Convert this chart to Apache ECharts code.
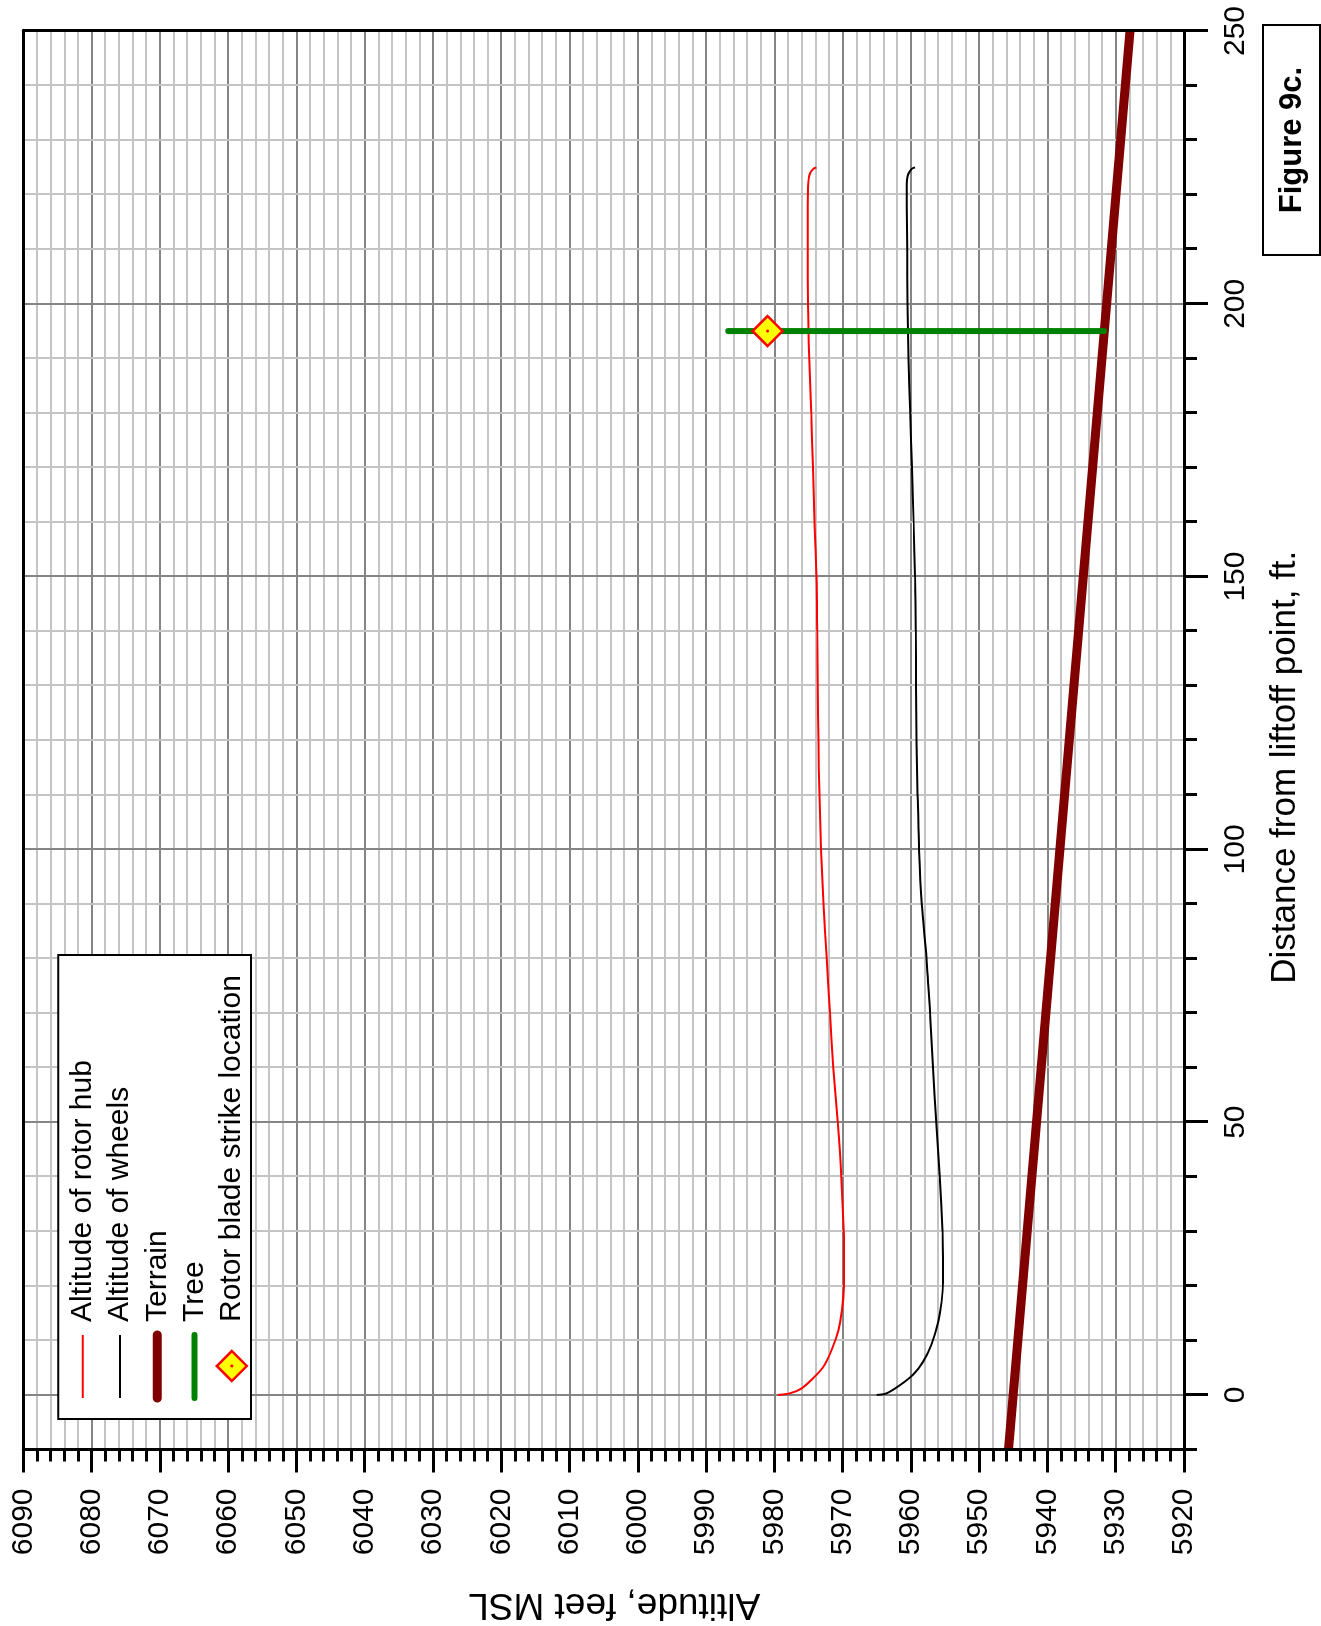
<!DOCTYPE html>
<html>
<head>
<meta charset="utf-8">
<script src="https://cdn.jsdelivr.net/npm/echarts@6/dist/echarts.min.js"></script>
<style>
  html, body { margin: 0; padding: 0; background: #fff; overflow: hidden; }
  #page { position: relative; width: 1321px; height: 1626px; overflow: hidden; background: #fff; }
  /* The chart is laid out landscape and turned a quarter turn counter-clockwise */
  #chart { position: absolute; left: 0; top: 0; width: 1626px; height: 1321px;
           transform-origin: 0 0; transform: translate(0, 1626px) rotate(-90deg); }
</style>
</head>
<body>
<div id="page"><div id="chart"></div></div>
<script>
// Distance from liftoff point (ft) and altitude (ft MSL) of the rotor hub
const hubDistance = [0, 0.3, 1.2, 3.1, 5.2, 8.25, 11.9, 15.6, 19.2, 25, 30, 40, 50, 60, 70, 80, 90, 100,
  110, 120, 130, 140, 150, 160, 170, 180, 190, 195, 200, 210, 218, 222, 223.5, 224.3, 224.8, 225];
const hubAltitude = [5979.5, 5977.7, 5976.0, 5974.3, 5972.8, 5971.6, 5970.6, 5970.1, 5969.85, 5969.8, 5969.85,
  5970.2, 5970.73, 5971.37, 5971.85, 5972.34, 5972.8, 5973.15, 5973.4, 5973.55, 5973.65, 5973.72, 5973.82,
  5974.1, 5974.35, 5974.6, 5974.88, 5975.0, 5975.08, 5975.1, 5975.1, 5975.05, 5974.9, 5974.6, 5974.2, 5973.85];

// Altitude of the wheels
const wheelDistance = [0, 0.3, 1.8, 3.7, 6.1, 9.2, 13.4, 17.1, 20.7, 25, 30, 40, 50, 60, 70, 80, 90, 100,
  110, 120, 130, 140, 150, 160, 170, 180, 190, 200, 210, 218, 222, 223.5, 224.3, 224.8, 225];
const wheelAltitude = [5965.0, 5963.55, 5961.6, 5959.7, 5958.2, 5957.0, 5956.0, 5955.5, 5955.3, 5955.3, 5955.37,
  5955.76, 5956.3, 5956.75, 5957.2, 5957.7, 5958.4, 5958.8, 5959.02, 5959.17, 5959.24, 5959.3, 5959.4,
  5959.6, 5959.85, 5960.1, 5960.35, 5960.5, 5960.55, 5960.6, 5960.6, 5960.45, 5960.15, 5959.8, 5959.4];

// Terrain profile
const terrainDistance = [-10, 250];
const terrainAltitude = [5945.7, 5927.9];

// Tree (base to top)
const treeDistance = [195, 195];
const treeAltitude = [5931.7, 5986.75];

// Rotor blade strike location
const strikeDistance = [195];
const strikeAltitude = [5981.0];

// Labelled ticks
const distanceLabels = [0, 50, 100, 150, 200, 250];
const altitudeLabels = [5920, 5930, 5940, 5950, 5960, 5970, 5980, 5990, 6000, 6010, 6020, 6030, 6040, 6050, 6060, 6070, 6080, 6090];

const legendNames = ['Altitude of rotor hub', 'Altitude of wheels', 'Terrain', 'Tree', 'Rotor blade strike location'];
const figureLabel = 'Figure 9c.';

const FONT = '"Liberation Sans", Arial, Helvetica, sans-serif';
const pairs = (xs, ys) => xs.map((x, i) => [x, ys[i]]);
const frameLine = { show: true, onZero: false, lineStyle: { color: '#000', width: 3 } };
const LIGHT = '#c4c4c4', DARK = '#858585';
const TOP_Z = 20;

const chart = echarts.init(document.getElementById('chart'), null, { renderer: 'canvas' });

// Legend drawn as a boxed key in the upper-left corner of the plot
const legendRowY = i => 82.8 + 37.25 * i;
const legendElements = [
  { type: 'rect', z: TOP_Z, shape: { x: 207, y: 58.3, width: 464, height: 192.7 },
    style: { fill: '#fff', stroke: '#000', lineWidth: 2 } }
];
const legendStyles = [
  { stroke: '#ff0000', lineWidth: 2 },
  { stroke: '#000000', lineWidth: 2 },
  { stroke: '#800000', lineWidth: 9, lineCap: 'round' },
  { stroke: '#008000', lineWidth: 6, lineCap: 'round' },
  null
];
legendNames.forEach((name, i) => {
  const y = legendRowY(i);
  if (legendStyles[i]) {
    legendElements.push({ type: 'line', z: TOP_Z + 1, shape: { x1: 228, y1: y, x2: 291, y2: y }, style: legendStyles[i] });
  } else {
    legendElements.push({ type: 'polygon', z: TOP_Z + 1,
      shape: { points: [[260, y - 15], [275, y], [260, y + 15], [245, y]] },
      style: { fill: '#ffff00', stroke: '#ff0000', lineWidth: 2.5 } });
    legendElements.push({ type: 'circle', z: TOP_Z + 2, shape: { cx: 260, cy: y, r: 1.5 }, style: { fill: '#ff0000' } });
  }
  legendElements.push({ type: 'text', z: TOP_Z + 1, x: 304, y: y,
    style: { text: name, font: '30px ' + FONT, fill: '#000', align: 'left', verticalAlign: 'middle' } });
});

const figureElements = [
  { type: 'rect', z: TOP_Z, shape: { x: 1371, y: 1263, width: 230, height: 57 },
    style: { fill: '#fff', stroke: '#000', lineWidth: 2 } },
  { type: 'text', z: TOP_Z + 1, x: 1486, y: 1292,
    style: { text: figureLabel, font: 'bold 31px ' + FONT, fill: '#000', align: 'center', verticalAlign: 'middle' } }
];

const option = {
  animation: false,
  backgroundColor: '#fff',
  grid: { left: 176.5, right: 31, top: 23.3, bottom: 137, show: false, outerBoundsMode: 'none' },
  xAxis: [
    {
      type: 'value', position: 'bottom', min: -10, max: 250, interval: 10,
      name: 'Distance from liftoff point, ft.', nameLocation: 'middle', nameGap: 84,
      nameTextStyle: { fontSize: 35, color: '#000', fontFamily: FONT, padding: [0, 54, 0, 0] },
      axisLine: { show: false, onZero: false },
      axisTick: { show: true, length: 13, lineStyle: { color: '#000', width: 3 } },
      axisLabel: { show: true, margin: 37, fontSize: 30, color: '#000', fontFamily: FONT,
        formatter: v => distanceLabels.includes(v) ? String(v) : '' },
      splitLine: { show: true, lineStyle: { color: [LIGHT, DARK, LIGHT, LIGHT, LIGHT], width: 2 } },
      z: 1
    },
    {
      type: 'value', position: 'bottom', min: -10, max: 250,
      axisLine: frameLine,
      axisTick: { show: true, length: 24, customValues: distanceLabels, lineStyle: { color: '#000', width: 3 } },
      axisLabel: { show: false }, splitLine: { show: false }, z: 4
    },
    {
      type: 'value', position: 'top', min: -10, max: 250,
      axisLine: frameLine, axisTick: { show: false }, axisLabel: { show: false }, splitLine: { show: false }, z: 4
    }
  ],
  yAxis: [
    {
      type: 'value', position: 'left', min: 5920, max: 6090, interval: 2,
      name: 'Altitude, feet MSL', nameLocation: 'middle', nameRotate: 90, nameGap: 136,
      nameTextStyle: { fontSize: 37, color: '#000', fontFamily: FONT, padding: [0, 21, 0, 0] },
      axisLine: { show: false, onZero: false },
      axisTick: { show: true, length: 12, lineStyle: { color: '#000', width: 3 } },
      axisLabel: { show: true, margin: 39, fontSize: 30, color: '#000', fontFamily: FONT,
        formatter: v => altitudeLabels.includes(v) ? String(v) : '' },
      splitLine: { show: true, lineStyle: { color: [DARK, LIGHT, LIGHT, LIGHT, LIGHT], width: 2 } },
      z: 1
    },
    {
      type: 'value', position: 'left', min: 5920, max: 6090, interval: 10,
      axisLine: frameLine,
      axisTick: { show: true, length: 23, lineStyle: { color: '#000', width: 3 } },
      axisLabel: { show: false }, splitLine: { show: false }, z: 4
    },
    {
      type: 'value', position: 'right', min: 5920, max: 6090,
      axisLine: frameLine, axisTick: { show: false }, axisLabel: { show: false }, splitLine: { show: false }, z: 4
    }
  ],
  series: [
    {
      name: legendNames[0], type: 'line', data: pairs(hubDistance, hubAltitude),
      showSymbol: false, symbol: 'none', smooth: 0.3,
      lineStyle: { color: '#ff0000', width: 2 }, z: 2
    },
    {
      name: legendNames[1], type: 'line', data: pairs(wheelDistance, wheelAltitude),
      showSymbol: false, symbol: 'none', smooth: 0.3,
      lineStyle: { color: '#000000', width: 2 }, z: 2
    },
    {
      name: legendNames[2], type: 'line', data: pairs(terrainDistance, terrainAltitude),
      showSymbol: false, symbol: 'none', lineStyle: { color: '#800000', width: 9 }, z: 2
    },
    {
      name: legendNames[3], type: 'line', data: pairs(treeDistance, treeAltitude),
      showSymbol: false, symbol: 'none', lineStyle: { color: '#008000', width: 6, cap: 'round' }, z: 3
    },
    {
      name: legendNames[4], type: 'scatter', data: pairs(strikeDistance, strikeAltitude),
      symbol: 'diamond', symbolSize: 30,
      itemStyle: { color: '#ffff00', borderColor: '#ff0000', borderWidth: 2.5, opacity: 1 }, z: 5
    },
    {
      name: legendNames[4] + ' centre', type: 'scatter', data: pairs(strikeDistance, strikeAltitude),
      symbol: 'circle', symbolSize: 3, silent: true,
      itemStyle: { color: '#ff0000', opacity: 1 }, z: 6
    }
  ],
  graphic: {
    elements: legendElements.concat(figureElements)
  }
};

chart.setOption(option);
</script>
</body>
</html>
